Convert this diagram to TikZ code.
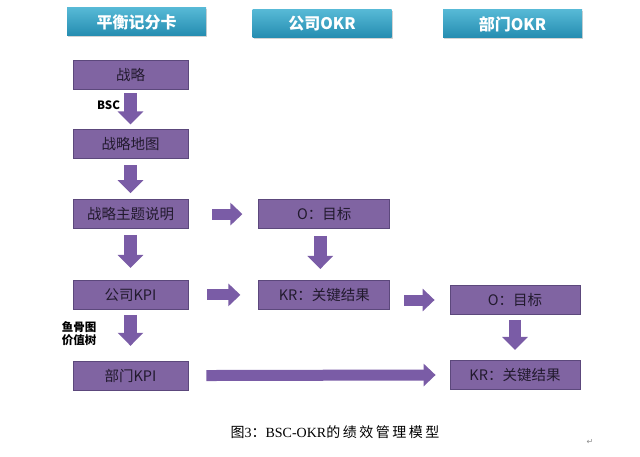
\documentclass[tikz,border=0pt]{standalone}
\usepackage{fontspec}
\setmainfont{Liberation Serif}
\newfontfamily\cjk{Noto Sans CJK SC}
\newfontfamily\cjkwide{Noto Sans CJK SC}[LetterSpace=18]
\newfontfamily\symfont{DejaVu Sans}
\usepackage{tikz}
\usetikzlibrary{arrows.meta,positioning,shadows}
\definecolor{bscTeal}{RGB}{56,172,206}
\definecolor{bscTealDark}{RGB}{36,140,176}
\definecolor{bscPurple}{RGB}{128,100,162}
\definecolor{bscPurpleDark}{RGB}{92,72,124}
\definecolor{bscText}{RGB}{34,26,46}
\definecolor{arrowPurple}{RGB}{122,92,166}

\begin{document}
\begin{tikzpicture}[x=1pt,y=1pt,
        head/.style={top color=bscTeal!85!white,bottom color=bscTealDark,draw=none,
          minimum width=139pt,minimum height=28pt,inner sep=0pt,
          font=\cjk\fontsize{16}{16}\selectfont\bfseries,text=white,
          drop shadow={shadow xshift=1pt,shadow yshift=-1.5pt,opacity=0.35}},
        box/.style={draw=bscPurpleDark,fill=bscPurple,line width=0.8pt,inner sep=0pt,
          minimum height=29pt,font=\cjk\fontsize{14.5}{15}\selectfont,text=bscText},
        lbox/.style={box,minimum width=115pt},
        mbox/.style={box,minimum width=131pt},
        rbox/.style={box,minimum width=130pt},
        fatv/.style={draw=arrowPurple,line width=12.5pt,-{Triangle[length=13pt,width=25pt]}},
        fath/.style={draw=arrowPurple,line width=11pt,-{Triangle[length=12pt,width=22pt]}},
        side/.style={font=\cjk\fontsize{11.5}{13}\selectfont\bfseries,align=left}
      ]
        \useasboundingbox (0,0) rectangle (640,-457);
        % column heads
        \node[head] (h1) at (136.5,-22) {平衡记分卡};
        \node[head] (h2) at (322,-24) {公司OKR};
        \node[head] (h3) at (512.5,-24) {部门OKR};
        % left column
        \node[lbox] (s1) at (130.5,-74.5) {战略};
        \node[lbox,below=40pt of s1] (s2) {战略地图};
        \node[lbox,below=40pt of s2] (s3) {战略主题说明};
        \node[lbox,below=51pt of s3] (s4) {公司KPI};
        \node[lbox,below=51pt of s4] (s5) {部门KPI};
        % company OKR
        \node[mbox,right=70pt of s3] (o1) {O：目标};
        \node[mbox,right=70pt of s4] (k1) {KR：关键结果};
        % department OKR
        \node[rbox] (o2) at (515,-300) {O：目标};
        \node[rbox,below=45pt of o2] (k2) {KR：关键结果};
        % arrows
        \draw[fatv,shorten <=4pt,shorten >=5pt] (s1) -- (s2);
        \draw[fatv,shorten <=6pt,shorten >=6pt] (s2) -- (s3);
        \draw[fatv,shorten <=6pt,shorten >=12pt] (s3) -- (s4);
        \draw[fatv,shorten <=5pt,shorten >=15pt] (s4) -- (s5);
        \draw[fatv,shorten <=7pt,shorten >=11pt] ([xshift=-4pt]o1.south) -- ([xshift=-4pt]k1.north);
        \draw[fatv,shorten <=5pt,shorten >=10pt] (o2) -- (k2);
        \draw[fath,shorten <=24pt,shorten >=16pt] (s3) -- (o1);
        \draw[fath,shorten <=19pt,shorten >=18pt] (s4) -- (k1);
        \draw[fath,shorten <=14pt,shorten >=15pt] (k1.east |- o2) -- (o2);
        \draw[fath,shorten <=18pt,shorten >=14pt] (s5) -- (k2);
        % side labels
        \node[side,left=3pt of s1.south,anchor=north east,yshift=-8pt,xshift=-4pt] (bsc) {BSC};
        \node[side,anchor=center] (fish) at (79,-334) {鱼骨图\\价值树};
        % caption
        \node[font=\fontsize{14}{14}\selectfont] (cap) at (335,-432)
          {{\cjk 图}3{\cjk ：}BSC-OKR{\cjkwide 的绩效管理模型}};
        \node[font=\symfont\fontsize{8}{8}\selectfont,text=black!45] (ret) at (590,-442) {↵};
      \end{tikzpicture}
\end{document}
